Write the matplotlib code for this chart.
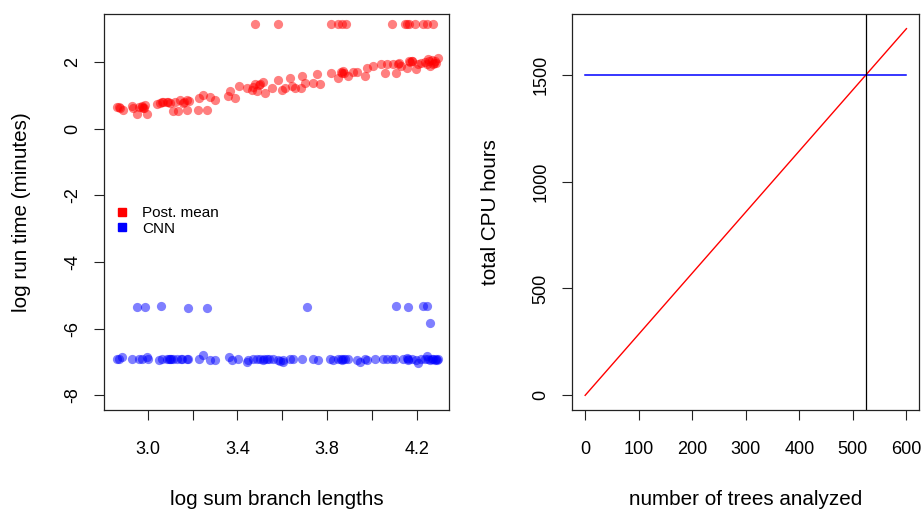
import matplotlib
matplotlib.use("Agg")
import matplotlib.pyplot as plt
from matplotlib.lines import Line2D

plt.rcParams['font.family'] = ['Liberation Sans', 'DejaVu Sans']

# ---- left panel data: log sum branch lengths vs log run time ----
post_x = [2.862, 2.877, 2.889, 2.929, 2.936, 2.954, 2.963, 2.973, 2.980, 2.988, 2.996,
          3.043, 3.055, 3.070, 3.085, 3.099, 3.114, 3.122, 3.136, 3.144, 3.156, 3.174,
          3.176, 3.185, 3.225, 3.230, 3.245, 3.265, 3.278, 3.300, 3.359, 3.367, 3.389,
          3.408, 3.441, 3.463, 3.478, 3.486, 3.500, 3.515, 3.522, 3.552, 3.582, 3.597,
          3.612, 3.634, 3.641, 3.656, 3.682, 3.686, 3.701, 3.738, 3.753, 3.767, 3.815,
          3.849, 3.864, 3.871, 3.894, 3.916, 3.931, 3.968, 3.976, 4.005, 4.042, 4.057,
          4.065, 4.094, 4.106, 4.116, 4.131, 4.154, 4.165, 4.176, 4.198, 4.205, 4.220,
          4.235, 4.250, 4.257, 4.272, 4.287, 4.294,
          2.870, 2.975, 2.985, 3.065, 3.090, 3.160, 3.470, 3.495, 3.860, 3.875, 4.170,
          4.180, 4.255, 4.265, 4.275, 4.282, 4.245, 4.120,
          3.478, 3.579, 3.815, 3.849, 3.867, 3.883, 4.088, 4.146, 4.156, 4.165, 4.190,
          4.228, 4.243, 4.272]
post_y = [0.65, 0.63, 0.55, 0.68, 0.63, 0.43, 0.65, 0.68, 0.63, 0.71, 0.43,
          0.73, 0.78, 0.81, 0.81, 0.78, 0.53, 0.81, 0.53, 0.85, 0.78, 0.55,
          0.85, 0.83, 0.57, 0.91, 1.01, 0.57, 0.95, 0.85, 0.98, 1.13, 0.91,
          1.28, 1.23, 1.15, 1.33, 1.13, 1.35, 1.41, 1.08, 1.23, 1.46, 1.15,
          1.23, 1.51, 1.28, 1.23, 1.21, 1.58, 1.38, 1.38, 1.63, 1.35, 1.68,
          1.53, 1.68, 1.73, 1.58, 1.71, 1.71, 1.58, 1.83, 1.88, 1.93, 1.68,
          1.93, 1.93, 1.68, 1.93, 1.88, 1.81, 2.03, 2.03, 1.78, 1.93, 1.98,
          2.01, 2.08, 1.88, 1.93, 1.98, 2.13,
          0.66, 0.66, 0.63, 0.80, 0.80, 0.81, 1.26, 1.30, 1.71, 1.67, 2.01,
          2.04, 2.02, 2.05, 1.98, 2.04, 1.95, 1.98,
          3.15, 3.15, 3.15, 3.15, 3.15, 3.15, 3.15, 3.15, 3.15, 3.15, 3.15,
          3.15, 3.15, 3.15]

cnn_x = [2.862, 2.884, 2.929, 2.959, 2.973, 2.996, 3.048, 3.062, 3.085, 3.099, 3.114,
         3.129, 3.151, 3.174, 3.181, 3.230, 3.248, 3.278, 3.300, 3.364, 3.374, 3.404,
         3.441, 3.448, 3.471, 3.486, 3.500, 3.515, 3.530, 3.560, 3.582, 3.589, 3.601,
         3.634, 3.649, 3.686, 3.738, 3.760, 3.812, 3.827, 3.849, 3.864, 3.879, 3.894,
         3.931, 3.946, 3.968, 3.976, 4.013, 4.050, 4.065, 4.087, 4.102, 4.139, 4.154,
         4.161, 4.176, 4.198, 4.205, 4.220, 4.235, 4.243, 4.250, 4.257, 4.272, 4.287,
         4.294,
         2.870, 3.000, 3.095, 3.105, 3.150, 3.520, 3.540, 3.605, 3.860, 3.870, 4.160,
         4.265, 4.280, 4.290,
         2.951, 2.988, 3.059, 3.181, 3.265, 3.708, 4.106, 4.161, 4.228, 4.243, 4.259]
cnn_y = [-6.92, -6.86, -6.92, -6.92, -6.92, -6.86, -6.93, -6.92, -6.91, -6.90, -6.91,
         -6.91, -6.92, -6.92, -6.90, -6.92, -6.80, -6.93, -6.95, -6.86, -6.94, -6.92,
         -6.99, -6.95, -6.92, -6.92, -6.90, -6.93, -6.92, -6.92, -6.93, -6.96, -7.01,
         -6.91, -6.92, -6.92, -6.92, -6.93, -6.90, -6.93, -6.92, -6.95, -6.92, -6.90,
         -6.93, -7.00, -6.91, -6.94, -6.92, -6.92, -6.91, -6.92, -6.90, -6.92, -6.88,
         -6.93, -6.92, -6.93, -7.04, -6.91, -6.92, -6.81, -6.90, -6.95, -6.92, -6.92,
         -6.91,
         -6.92, -6.90, -6.92, -6.91, -6.90, -6.92, -6.91, -6.94, -6.92, -6.90, -6.91,
         -6.90, -6.93, -6.94,
         -5.34, -5.36, -5.31, -5.39, -5.39, -5.35, -5.31, -5.35, -5.33, -5.33, -5.82]

left_xticks = [3.0, 3.2, 3.4, 3.6, 3.8, 4.0, 4.2]
left_xticklabels = ["3.0", "", "3.4", "", "3.8", "", "4.2"]
left_yticks = [-8, -6, -4, -2, 0, 2]
legend_labels = ["Post. mean", "CNN"]

# ---- right panel data: number of trees vs total CPU hours ----
trees = [0, 600]
post_cpu = [0, 1716]
cnn_cpu = [1500, 1500]
crossover_trees = 524
right_xticks = [0, 100, 200, 300, 400, 500, 600]
right_yticks = [0, 500, 1000, 1500]

TICK_FS = 13
LABEL_FS = 14.9

fig = plt.figure(figsize=(9.22, 5.12), dpi=100)
W, H = 922, 512
ax1 = fig.add_axes([104 / W, (H - 410) / H, 345 / W, 396 / H])
ax2 = fig.add_axes([572.3 / W, (H - 410) / H, 347 / W, 396 / H])

for ax in (ax1, ax2):
    for s in ax.spines.values():
        s.set_linewidth(0.9)
        s.set_color('#222222')
    ax.tick_params(axis='both', length=7.5, width=0.8, labelsize=TICK_FS, color='#222222')
    ax.tick_params(axis='x', pad=15)
    ax.tick_params(axis='y', pad=9, labelrotation=90)

# left panel
ax1.scatter(post_x, post_y, s=44, color='red', alpha=0.5, linewidths=0)
ax1.scatter(cnn_x, cnn_y, s=44, color='blue', alpha=0.5, linewidths=0)
ax1.set_xlim(2.805, 4.343)
ax1.set_ylim(-8.44, 3.44)
ax1.set_xticks(left_xticks)
ax1.set_xticklabels(left_xticklabels)
ax1.set_yticks(left_yticks)
ax1.set_yticklabels([str(v) for v in left_yticks], va='center')
ax1.set_xlabel("log sum branch lengths", fontsize=LABEL_FS)
ax1.set_ylabel("log run time (minutes)", fontsize=LABEL_FS)
ax1.xaxis.set_label_coords(0.5, -0.24)
ax1.xaxis.label.set_va('baseline')
ax1.yaxis.set_label_coords(-0.238, 0.5)
ax1.yaxis.label.set_va('center')

handles = [Line2D([], [], marker='s', linestyle='none', color=c, markersize=6)
           for c in ('red', 'blue')]
ax1.legend(handles, legend_labels, loc='upper left', bbox_to_anchor=(0.03, 0.515),
           frameon=False, fontsize=11, handlelength=1.0, handletextpad=0.8,
           labelspacing=0.1, borderpad=0, borderaxespad=0)

# right panel
ax2.plot(trees, post_cpu, color='red', lw=1.0)
ax2.plot(trees, cnn_cpu, color='blue', lw=1.1)
ax2.axvline(crossover_trees, color='black', lw=0.9)
ax2.set_xlim(-24, 624)
ax2.set_ylim(-68.6, 1784.6)
ax2.set_xticks(right_xticks)
ax2.set_yticks(right_yticks)
ax2.set_yticklabels([str(v) for v in right_yticks], va='center')
ax2.set_xlabel("number of trees analyzed", fontsize=LABEL_FS)
ax2.set_ylabel("total CPU hours", fontsize=LABEL_FS)
ax2.xaxis.set_label_coords(0.5, -0.24)
ax2.xaxis.label.set_va('baseline')
ax2.yaxis.set_label_coords(-0.237, 0.5)
ax2.yaxis.label.set_va('center')

fig.savefig("out.png", dpi=100)
